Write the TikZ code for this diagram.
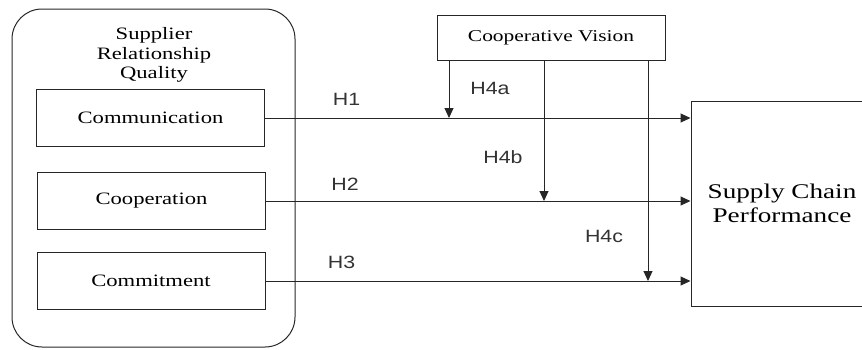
\documentclass[tikz,border=0pt]{standalone}
\usepackage{fontspec}
\setmainfont{Liberation Serif}[FakeStretch=1.3]
\newfontfamily\hypfont{Liberation Sans}[FakeStretch=1.2]
\usetikzlibrary{arrows.meta}

\begin{document}
\begin{tikzpicture}[x=1pt,y=-1pt,
  line/.style={draw=black!85,line width=1pt},
  dim/.style={line,minimum width=228pt,minimum height=57pt,inner sep=0pt,
    font=\fontsize{17.4}{19.5}\selectfont},
  hyp/.style={inner sep=0pt,text=black!80,font=\hypfont\fontsize{17.8}{20}\selectfont},
  >={Triangle[length=10pt,width=9pt]}]
\useasboundingbox (0,0) rectangle (862,349);

% supplier relationship quality and its three dimensions
\node[line,rounded corners=30pt,minimum width=283pt,minimum height=338pt] (srq) at (153.5,178) {};
\node[align=center,inner sep=0pt,font=\fontsize{17.4}{19.5}\selectfont] (srqtitle) at (154,55) {Supplier\\Relationship\\Quality};
\node[dim] (comm) at (150.5,118) {Communication};
\node[dim] (coop) at (151.5,201) {Cooperation};
\node[dim] (cmt) at (151,281) {Commitment};

% moderator and outcome (the outcome box runs past the right margin)
\node[line,minimum width=228pt,minimum height=45pt,inner sep=0pt,font=\fontsize{16.5}{19}\selectfont] (cv) at (551,37.5) {Cooperative Vision};
\node[line,align=center,minimum width=182pt,minimum height=205pt,inner sep=0pt,font=\fontsize{20.9}{24}\selectfont] (scp) at (782,203.5) {Supply Chain\\Performance};

% direct paths
\draw[->,line] (comm) -- (comm -| scp.west);
\draw[->,line] (coop) -- (coop -| scp.west);
\draw[->,line] (cmt) -- (cmt -| scp.west);

% moderating paths
\coordinate (ma) at (449,118);
\coordinate (mb) at (544,201);
\coordinate (mc) at (648,281);
\draw[->,line] (cv.south -| ma) -- (ma);
\draw[->,line] (cv.south -| mb) -- (mb);
\draw[->,line] (cv.south -| mc) -- (mc);

\node[hyp] (h1) at (346.5,99.5) {H1};
\node[hyp] (h2) at (345,184) {H2};
\node[hyp] (h3) at (341.5,262) {H3};
\node[hyp] (h4a) at (490,88.5) {H4a};
\node[hyp] (h4b) at (503,157) {H4b};
\node[hyp] (h4c) at (604,236.5) {H4c};

\end{tikzpicture}
\end{document}
